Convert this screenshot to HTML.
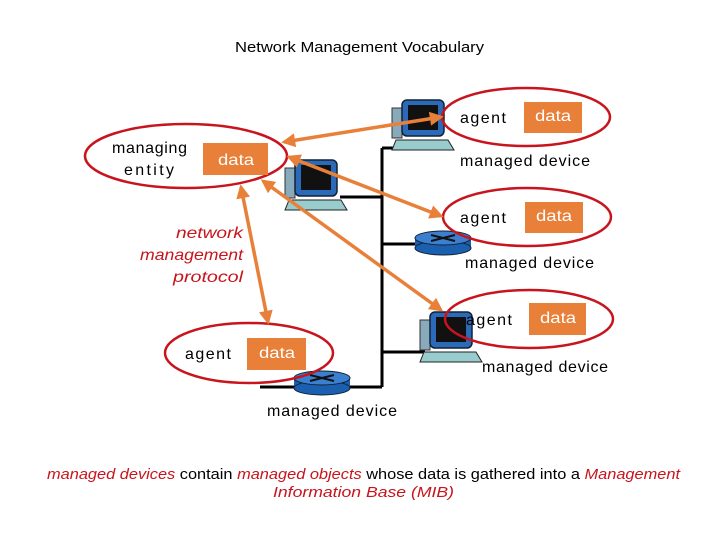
<!DOCTYPE html>
<html><head><meta charset="utf-8"><style>
body{margin:0;width:720px;height:540px;background:#fff;overflow:hidden}
svg text{font-family:"Liberation Sans",sans-serif}
</style></head><body>
<svg width="720" height="540" viewBox="0 0 720 540">
<defs>
<g id="pc">
<rect x="0" y="8" width="10" height="30" fill="#8ab" stroke="#333" stroke-width="1"/>
<rect x="10" y="0" width="42" height="36" rx="5" fill="#2a6ab8" stroke="#123" stroke-width="1.5"/>
<rect x="16" y="5" width="30" height="25" fill="#111"/>
<polygon points="4,40 56,40 62,50 0,50" fill="#9cc" stroke="#222" stroke-width="1"/>
</g>
<g id="rt">
<rect x="0" y="6" width="56" height="10" fill="#1b5fb0"/>
<ellipse cx="28" cy="16" rx="28" ry="7" fill="#1b5fb0" stroke="#123"/>
<ellipse cx="28" cy="6" rx="28" ry="7" fill="#3a7fd0" stroke="#123"/>
<path d="M16 3 L40 9 M16 9 L40 3" stroke="#111" stroke-width="2"/>
</g>
<marker id="ah" viewBox="0 0 10 10" refX="8" refY="5" markerWidth="4" markerHeight="4" orient="auto-start-reverse"><path d="M0 0 L10 5 L0 10 z" fill="#e8803a"/></marker>
</defs>
<text x="235" y="52" font-size="14.5" textLength="249" lengthAdjust="spacingAndGlyphs">Network Management Vocabulary</text>

<g stroke="#000" stroke-width="3" fill="none">
<path d="M382 148 V387"/>
<path d="M382 148 H395"/>
<path d="M340 197 H382"/>
<path d="M382 244 H420"/>
<path d="M382 352 H425"/>
<path d="M382 387 H260"/>
</g>
<use href="#pc" x="392" y="100"/>
<use href="#pc" x="285" y="160"/>
<use href="#pc" x="420" y="312"/>
<use href="#rt" x="415" y="232"/>
<use href="#rt" x="294" y="372"/>

<g stroke="#c8141c" stroke-width="2.5" fill="none">
<ellipse cx="186" cy="156" rx="101" ry="32"/>
<ellipse cx="526" cy="117" rx="84" ry="29"/>
<ellipse cx="527" cy="217" rx="84" ry="29"/>
<ellipse cx="529" cy="319" rx="84" ry="29"/>
<ellipse cx="249" cy="353" rx="84" ry="30"/>
</g>
<g fill="#e8803a">
<rect x="203" y="143" width="65" height="32"/>
<rect x="524" y="102" width="58" height="31"/>
<rect x="525" y="202" width="58" height="31"/>
<rect x="529" y="303" width="57" height="32"/>
<rect x="247" y="338" width="59" height="32"/>
</g>
<g fill="#fff" font-size="16">
<text x="218" y="165" textLength="36" lengthAdjust="spacingAndGlyphs">data</text>
<text x="535" y="121" textLength="36" lengthAdjust="spacingAndGlyphs">data</text>
<text x="536" y="221" textLength="36" lengthAdjust="spacingAndGlyphs">data</text>
<text x="540" y="323" textLength="36" lengthAdjust="spacingAndGlyphs">data</text>
<text x="259" y="358" textLength="36" lengthAdjust="spacingAndGlyphs">data</text>
</g>
<g stroke="#e8803a" stroke-width="3.5" marker-start="url(#ah)" marker-end="url(#ah)">
<line x1="284" y1="142" x2="441" y2="117"/>
<line x1="289" y1="157" x2="441" y2="216"/>
<line x1="263" y1="181" x2="441" y2="310"/>
<line x1="241" y1="187" x2="268" y2="322"/>
</g>
<g font-size="16" fill="#000" lengthAdjust="spacingAndGlyphs">
<text x="112" y="153" textLength="75">managing</text>
<text x="124" y="175" textLength="50">entity</text>
<text x="460" y="123" textLength="46">agent</text>
<text x="460" y="223" textLength="46">agent</text>
<text x="466" y="325" textLength="46">agent</text>
<text x="185" y="359" textLength="46">agent</text>
<text x="460" y="166" textLength="130">managed device</text>
<text x="465" y="268" textLength="129">managed device</text>
<text x="482" y="372" textLength="126">managed device</text>
<text x="267" y="416" textLength="130">managed device</text>
</g>
<g font-size="16" fill="#c8141c" font-style="italic">
<text x="176" y="238" textLength="67" lengthAdjust="spacingAndGlyphs">network</text>
<text x="140" y="260" textLength="103" lengthAdjust="spacingAndGlyphs">management</text>
<text x="173" y="282" textLength="70" lengthAdjust="spacingAndGlyphs">protocol</text>
</g>
<text x="47" y="479" font-size="15" textLength="633" lengthAdjust="spacingAndGlyphs"><tspan fill="#c8141c" font-style="italic">managed devices</tspan> contain <tspan fill="#c8141c" font-style="italic">managed objects</tspan> whose data is gathered into a <tspan fill="#c8141c" font-style="italic">Management</tspan></text>
<text x="273" y="497" font-size="15" fill="#c8141c" font-style="italic" textLength="181" lengthAdjust="spacingAndGlyphs">Information Base (MIB)</text>
</svg>
</body></html>
